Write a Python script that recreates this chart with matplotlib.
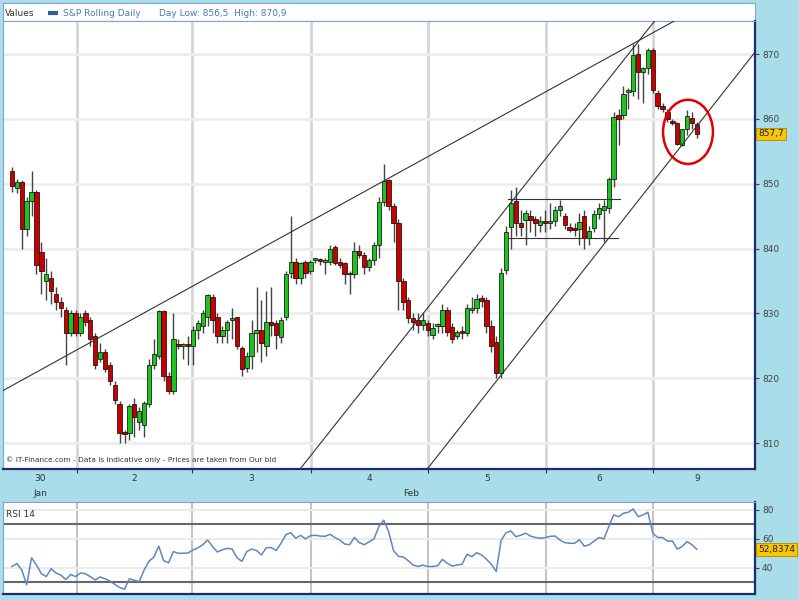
import numpy as np
import matplotlib
matplotlib.use("Agg")
import matplotlib.pyplot as plt
import matplotlib.transforms as mtransforms
from matplotlib.patches import Ellipse

# S&P rolling daily bars (open / high / low / close)
opens = [851.9, 849.4, 850.2, 843.0, 847.4, 848.7, 839.5, 835.0, 835.5, 833.0, 831.8, 830.5, 827.0, 830.0,
         827.0, 830.0, 829.0, 826.5, 823.0, 824.0, 822.0, 819.0, 816.0, 811.6, 811.5, 816.0, 813.3, 812.8,
         816.0, 822.0, 823.5, 830.3, 820.3, 818.0, 825.3, 825.0, 825.2, 825.0, 827.5,
         828.0, 829.4, 832.6, 829.4, 826.5, 827.5, 829.0, 829.4, 824.6, 821.6, 823.4, 826.9, 827.5, 825.0,
         828.7, 828.5, 826.3, 829.5, 836.2, 838.0, 835.5, 837.9, 836.5,
         838.2, 838.3, 838.0, 838.0, 840.2, 838.0, 837.7, 836.0, 836.0, 839.7, 839.0, 837.2, 838.3, 840.6,
         847.2, 850.5, 846.6, 844.0, 835.0, 832.0, 829.3, 829.0, 828.2, 828.5,
         826.7, 828.0, 828.0, 830.5, 827.9, 826.5, 827.3, 827.0, 830.6, 830.8, 832.3, 832.0, 828.0, 825.6,
         820.8, 836.7, 843.4, 847.3, 844.0, 844.4, 845.0, 844.5, 843.7, 844.2,
         844.0, 844.2, 846.0, 845.0, 843.4, 843.0, 843.0, 845.0, 841.7, 843.1, 845.3, 846.0, 846.3, 850.8,
         860.6, 860.6, 864.2, 864.3, 870.0, 867.3, 867.8, 870.7,
         864.0, 862.0, 861.0, 859.5, 859.3, 856.0, 858.4, 860.2, 859.2]
highs = [852.6, 850.8, 850.6, 848.0, 852.0, 849.0, 841.0, 838.5, 836.5, 834.0, 832.5, 831.0, 830.5, 830.5,
         830.0, 830.5, 829.5, 827.0, 825.5, 824.5, 822.5, 819.5, 816.5, 812.0, 816.0, 817.0, 815.5, 816.5,
         823.0, 826.0, 830.5, 830.6, 821.0, 830.0, 826.0, 825.5, 826.5, 828.0, 829.0,
         830.5, 833.0, 833.0, 830.0, 828.0, 829.0, 830.8, 829.5, 825.0, 824.0, 829.0, 834.0, 832.0, 833.5,
         834.0, 829.0, 829.5, 836.5, 845.0, 838.5, 838.0, 838.2, 838.2,
         838.5, 838.6, 838.5, 840.5, 840.5, 838.5, 838.0, 836.5, 841.0, 840.5, 839.5, 838.5, 841.0, 848.0,
         853.0, 850.8, 847.0, 844.5, 835.5, 832.5, 830.0, 830.0, 830.0, 829.0,
         828.5, 828.5, 831.5, 831.0, 828.5, 827.5, 828.0, 831.5, 832.5, 833.0, 832.8, 832.5, 829.0, 826.5,
         837.0, 843.5, 849.0, 849.5, 846.0, 846.0, 846.0, 845.0, 845.0, 846.0,
         847.0, 846.5, 847.5, 845.5, 844.0, 844.0, 845.5, 846.0, 843.5, 846.0, 847.0, 847.5, 851.0, 861.0,
         861.5, 865.0, 864.8, 871.5, 871.5, 868.0, 870.9, 870.9,
         864.5, 862.5, 861.5, 860.0, 859.5, 858.5, 861.3, 861.0, 859.5]
lows = [848.8, 848.5, 840.0, 842.0, 845.0, 836.0, 833.0, 832.0, 831.5, 830.5, 829.5, 822.0, 826.5, 826.5,
        826.5, 828.0, 825.0, 821.5, 822.5, 821.0, 819.0, 816.0, 810.0, 810.0, 810.5, 811.0, 812.0, 811.0,
        815.5, 821.5, 823.0, 819.5, 817.5, 817.5, 824.5, 823.0, 822.0, 822.0, 826.0,
        827.0, 828.0, 827.0, 825.5, 825.5, 825.5, 826.0, 824.5, 820.4, 821.0, 821.5, 824.0, 822.5, 823.5,
        826.5, 824.5, 825.5, 829.0, 835.5, 834.5, 834.5, 835.5, 836.0,
        837.8, 837.5, 836.0, 837.5, 837.5, 837.0, 834.5, 833.0, 835.5, 838.5, 836.0, 836.5, 837.5, 838.5,
        846.5, 846.0, 841.0, 830.5, 830.5, 828.5, 827.5, 827.0, 827.5, 826.5,
        826.0, 827.0, 827.0, 826.5, 825.5, 826.0, 826.0, 826.5, 830.0, 830.0, 831.0, 827.0, 824.0, 820.0,
        820.0, 836.0, 840.0, 842.0, 842.0, 840.5, 842.5, 842.0, 842.5, 842.5,
        843.0, 843.5, 845.0, 843.0, 842.5, 842.0, 840.5, 840.0, 840.5, 842.5, 844.5, 841.0, 845.5, 849.5,
        856.0, 860.0, 861.5, 863.5, 863.0, 862.5, 867.0, 864.0,
        861.5, 861.0, 859.5, 859.0, 856.0, 855.8, 857.5, 858.5, 857.0]
closes = [849.6, 850.2, 843.0, 847.4, 848.7, 837.4, 836.5, 836.0, 833.5, 831.8, 830.8, 827.0, 830.0, 827.0,
          829.5, 828.7, 826.0, 822.0, 824.0, 821.5, 819.5, 816.7, 811.6, 811.4, 815.7, 814.0, 815.0, 816.2,
          822.0, 823.7, 830.3, 820.3, 818.0, 826.0, 825.0, 825.2, 825.0, 827.5, 828.5,
          830.0, 832.8, 829.0, 826.5, 827.5, 828.7, 829.2, 825.0, 821.4, 823.5, 826.9, 827.5, 825.5, 828.6,
          828.2, 826.7, 829.0, 836.1, 838.0, 835.5, 837.8, 836.2, 838.0,
          838.3, 838.1, 838.0, 840.0, 837.8, 837.5, 836.0, 836.0, 839.6, 839.0, 837.2, 838.3, 840.6, 847.2,
          850.4, 846.6, 844.0, 835.0, 831.8, 829.3, 828.7, 828.2, 829.0, 827.4,
          827.7, 828.0, 830.5, 827.2, 826.0, 827.2, 827.0, 830.8, 830.9, 832.2, 831.9, 828.0, 825.0, 820.8,
          836.3, 842.5, 847.0, 844.0, 843.3, 845.5, 844.4, 844.0, 844.2, 843.9,
          844.0, 846.0, 846.6, 843.6, 842.9, 842.9, 844.1, 841.7, 842.7, 845.3, 846.3, 846.5, 850.8, 860.3,
          860.0, 863.8, 864.5, 869.9, 867.2, 867.8, 870.7, 864.5,
          862.0, 861.5, 860.0, 859.3, 856.2, 858.4, 860.4, 859.4, 857.7]

rsi = [41, 43, 38.6, 28.3, 47, 42, 36, 34, 39.5, 36.5, 35, 32, 35.5, 34,
       36.5, 36, 34, 31.7, 33.8, 32.5, 31, 28.7, 26.5, 25.3, 32.5, 31.5, 30.5, 38.5, 44.5, 47.5,
       55, 45, 43.5, 51.3, 50.1, 50.1, 50.3, 52.4, 53.8,
       56, 59.3, 54.7, 51, 52.5, 53.5, 53, 47, 44.5, 51.3, 53, 52, 49, 54, 54, 52, 57, 63, 64.3,
       60.5, 62.5, 60, 62.3,
       62.5, 62, 61.8, 63.2, 61, 59.3, 56.5, 56, 61, 57.5, 56, 58, 60, 68.5, 73, 65, 52, 48, 47.5,
       45, 42, 41, 42, 40.9,
       41, 41.5, 45.9, 43.2, 41.3, 42, 42.5, 49.4, 47.8, 50.5, 49, 46, 42.5, 37.5, 59, 64.3, 65.5,
       61.6, 62.5, 64, 62, 61, 60.5, 60.8,
       61.8, 62, 59.3, 57.5, 57, 57, 59.5, 55, 56, 58.5, 61, 60, 68.5, 76.6, 75.4, 77.7, 78.4, 80.7,
       75.4, 76.6, 78.4,
       64, 61, 61, 58.5, 58.6, 53, 54.7, 58.2, 56, 52.8374]

day_labels = ["30", "2", "3", "4", "5", "6", "9"]
day_bounds = [-1.8, 13.3, 36.8, 61.1, 85.1, 109.2, 131.1, 149.0]
month_labels = [("Jan", 0), ("Feb", 3.35)]  # (text, position in day units)

# drawn trend lines: (bar, price) endpoints
trend_lines = [((-1.84, 818.1), (136.6, 875.6)),
               ((58.9, 806.0), (131.9, 875.6)),
               ((84.9, 806.0), (151.9, 870.3)),
               ((101.4, 847.6), (124.3, 847.6)),
               ((101.4, 841.6), (123.9, 841.6))]

BG = '#a8dde9'
GREEN = '#1fc21f'
RED = '#c80000'
NAVY = '#1c2a6e'
LBLUE = '#7fa3d6'

W, H = 799, 600
fig = plt.figure(figsize=(W / 100, H / 100), dpi=100, facecolor=BG)


def box(x0, y0, x1, y1):
    # pixel box (top-left origin) -> figure fraction rect
    return [x0 / W, 1 - y1 / H, (x1 - x0) / W, (y1 - y0) / H]


# title band
tb = fig.add_axes(box(3, 3, 755, 21))
tb.set_xlim(0, 752)
tb.set_ylim(0, 18)
tb.set_xticks([])
tb.set_yticks([])
for s in tb.spines.values():
    s.set_color(LBLUE)
tb.spines['bottom'].set_color('#888888')
tb.text(2, 8, "Values", fontsize=6.5, color='#333333', va='center')
tb.plot([45, 55], [8, 8], color='#2f5f9f', lw=3, solid_capstyle='butt')
tb.text(60, 8, "S&P Rolling Daily", fontsize=6.5, color='#4a78b8', va='center')
tb.text(156, 8, "Day Low: 856,5  High: 870,9", fontsize=6.5, color='#4a78b8', va='center')

# price panel
ax = fig.add_axes(box(3, 21, 755, 469))
x = np.arange(len(closes))
o = np.array(opens)
c = np.array(closes)
h = np.array(highs)
l = np.array(lows)

ax.set_xlim(-1.84, 151.9)
ax.set_ylim(806.0, 875.1)

for b in day_bounds[1:-1]:
    ax.axvline(b, color='#d6d6d6', lw=2, zorder=0)
for p in range(810, 875, 10):
    ax.axhline(p, color='#ededed', lw=2, zorder=0)

for (x0, y0), (x1, y1) in trend_lines:
    ax.plot([x0, x1], [y0, y1], color='#333333', lw=0.8, zorder=3)

ax.vlines(x, l, h, color='#444444', lw=1, zorder=1)
body_lo = np.minimum(o, c)
body_h = np.maximum(np.abs(c - o), 0.3)
cols = [GREEN if cc >= oo else RED for oo, cc in zip(o, c)]
ax.bar(x, body_h, bottom=body_lo, width=0.9, color=cols, edgecolor='black', lw=0.5, zorder=2)

ax.add_patch(Ellipse((138.2, 858.0), 10.2, 9.9, fill=False, edgecolor='#e00000', lw=1.8, zorder=4))

ax.text(0.004, 0.013, "\u00a9 IT-Finance.com - Data is indicative only - Prices are taken from Our bid",
        transform=ax.transAxes, fontsize=5.3, color='#333333', va='bottom')

ax.yaxis.tick_right()
ax.set_yticks(range(810, 875, 10))
ax.tick_params(axis='y', labelsize=6.5, labelcolor='#444444', color='#444444', length=3, pad=2)
ax.set_xticks(day_bounds[1:-1])
ax.set_xticklabels([])
ax.tick_params(axis='x', length=3, color=NAVY)
for side in ['top', 'left']:
    ax.spines[side].set_color(LBLUE)
for side in ['bottom', 'right']:
    ax.spines[side].set_color(NAVY)
    ax.spines[side].set_linewidth(1.6)

trans = mtransforms.blended_transform_factory(ax.transData, ax.transAxes)
mids = [(a + b) / 2 for a, b in zip(day_bounds[:-1], day_bounds[1:])]
for m, lab in zip(mids, day_labels):
    ax.text(m, -0.021, lab, transform=trans, fontsize=6.5, color='#333333', ha='center', va='center')
for lab, d in month_labels:
    pos = np.interp(d, np.arange(len(mids)), mids)
    ax.text(pos, -0.054, lab, transform=trans, fontsize=6.5, color='#333333', ha='center', va='center')

ytrans = mtransforms.blended_transform_factory(ax.transAxes, ax.transData)
ax.text(1.004, closes[-1], f"{closes[-1]:.1f}".replace('.', ','), transform=ytrans, fontsize=6.5,
        color='#222222', va='center', ha='left',
        bbox=dict(boxstyle='square,pad=0.2', fc='#f7c600', ec='#b08a00', lw=0.6))

# RSI panel
rx = fig.add_axes(box(3, 502, 755, 594))
rx.set_xlim(-1.84, 151.9)
rx.set_ylim(22, 85.5)
for b in day_bounds[1:-1]:
    rx.axvline(b, color='#c4c4c4', lw=1.5, zorder=0)
for p in [40, 60, 80]:
    rx.axhline(p, color='#ebebeb', lw=1.5, zorder=0)
for p in [30, 70]:
    rx.axhline(p, color='#666666', lw=1.5, zorder=1)
rx.plot(np.arange(len(rsi)), rsi, color='#5d86c5', lw=1.1, zorder=2)
rx.text(0.004, 0.86, "RSI 14", transform=rx.transAxes, fontsize=6.5, color='#333333', va='center')
rx.yaxis.tick_right()
rx.set_yticks([40, 60, 80])
rx.tick_params(axis='y', labelsize=6.5, labelcolor='#444444', color='#444444', length=3, pad=2)
rx.set_xticks([])
for side in ['top', 'left']:
    rx.spines[side].set_color(LBLUE)
for side in ['bottom', 'right']:
    rx.spines[side].set_color(NAVY)
    rx.spines[side].set_linewidth(1.6)
rtrans = mtransforms.blended_transform_factory(rx.transAxes, rx.transData)
rx.text(1.004, rsi[-1], f"{rsi[-1]:.4f}".replace('.', ','), transform=rtrans, fontsize=6.5,
        color='#222222', va='center', ha='left',
        bbox=dict(boxstyle='square,pad=0.2', fc='#f7c600', ec='#b08a00', lw=0.6))

fig.savefig("out.png", dpi=100, facecolor=BG)
